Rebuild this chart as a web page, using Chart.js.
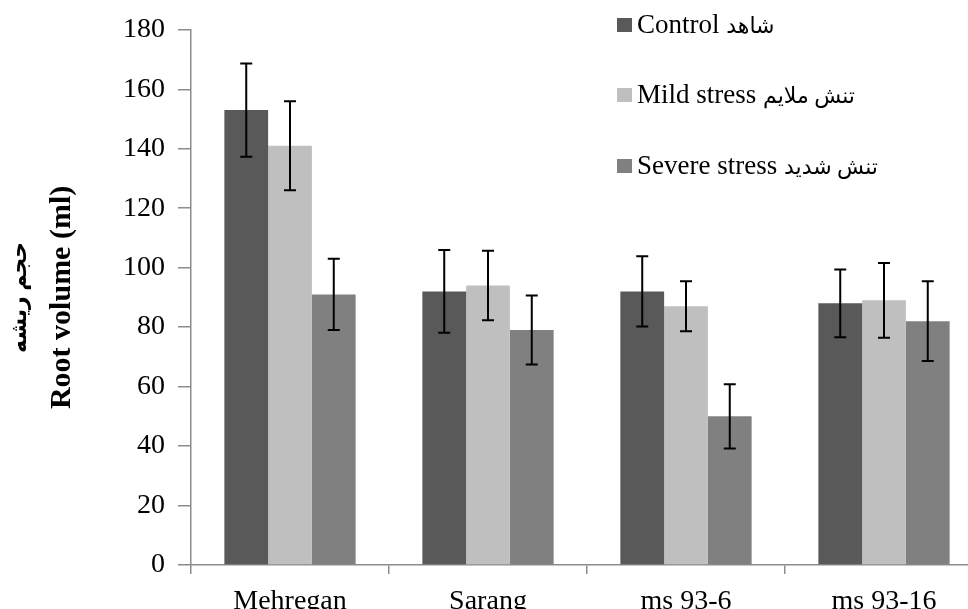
<!DOCTYPE html>
<html>
<head>
<meta charset="utf-8">
<script src="https://cdn.jsdelivr.net/npm/chart.js@4/dist/chart.umd.min.js"></script>
<style>
  html, body { margin: 0; padding: 0; background: #fff; overflow: hidden; width: 968px; height: 609px; }
  #wrap { position: relative; width: 990px; height: 609px; }
</style>
</head>
<body>
<div id="wrap"><canvas id="chart" width="990" height="609"></canvas></div>
<script>
// Root volume (ml) by genotype and drought treatment
const cultivars = ['Mehregan', 'Sarang', 'ms 93-6', 'ms 93-16'];
const seriesNames = ['Control', 'Mild stress', 'Severe stress'];
const seriesNamesFa = ['شاهد', 'تنش ملایم', 'تنش شدید'];
const controlVol = [153, 92, 92, 88];
const mildVol = [141, 94, 87, 89];
const severeVol = [91, 79, 50, 82];
// standard error (±) for each bar
const controlErr = [15.7, 13.9, 11.8, 11.4];
const mildErr = [15.0, 11.7, 8.4, 12.6];
const severeErr = [12.0, 11.6, 10.8, 13.4];
const yTicks = [0, 20, 40, 60, 80, 100, 120, 140, 160, 180];

const serifFont = "'Liberation Serif', 'Times New Roman', 'DejaVu Sans', serif";
const colors = ['#595959', '#bfbfbf', '#808080'];
const errors = [controlErr, mildErr, severeErr];

const errorBars = {
  id: 'errorBars',
  afterDatasetsDraw(chart) {
    const ctx = chart.ctx;
    const y = chart.scales.y;
    ctx.save();
    ctx.strokeStyle = '#000';
    ctx.lineWidth = 2;
    chart.data.datasets.forEach((ds, di) => {
      const meta = chart.getDatasetMeta(di);
      meta.data.forEach((bar, i) => {
        const v = ds.data[i], e = errors[di][i];
        const yTop = y.getPixelForValue(v + e);
        const yBot = y.getPixelForValue(v - e);
        const x = bar.x;
        ctx.beginPath();
        ctx.moveTo(x, yTop); ctx.lineTo(x, yBot);
        ctx.moveTo(x - 6, yTop); ctx.lineTo(x + 6, yTop);
        ctx.moveTo(x - 6, yBot); ctx.lineTo(x + 6, yBot);
        ctx.stroke();
      });
    });
    ctx.restore();
  }
};

// vertical legend in the upper right corner, English name followed by Persian name
const sideLegend = {
  id: 'sideLegend',
  afterDraw(chart) {
    const ctx = chart.ctx;
    const rows = [25, 95, 166];
    ctx.save();
    ctx.textBaseline = 'middle';
    ctx.textAlign = 'left';
    chart.data.datasets.forEach((ds, i) => {
      ctx.fillStyle = ds.backgroundColor;
      ctx.fillRect(617, rows[i] - 7, 15, 14);
      ctx.fillStyle = '#000';
      ctx.font = '27px ' + serifFont;
      const en = seriesNames[i] + ' ';
      ctx.fillText(en, 637, rows[i] + 1);
      const w = ctx.measureText(en).width;
      ctx.font = '22px ' + serifFont;
      ctx.fillText(seriesNamesFa[i], 637 + w, rows[i] + 2);
    });
    ctx.restore();
  }
};

const yTitle = {
  id: 'yTitle',
  afterDraw(chart) {
    const ctx = chart.ctx;
    const a = chart.chartArea;
    const cy = (a.top + a.bottom) / 2;
    ctx.save();
    ctx.fillStyle = '#000';
    ctx.textAlign = 'center';
    ctx.textBaseline = 'middle';
    ctx.translate(62, cy);
    ctx.rotate(-Math.PI / 2);
    ctx.font = 'bold 30px ' + serifFont;
    ctx.fillText('Root volume (ml)', 0, 0);
    ctx.font = 'bold 22px ' + serifFont;
    ctx.fillText('حجم ریشه', 0, -42);
    ctx.restore();
  }
};

new Chart(document.getElementById('chart'), {
  type: 'bar',
  data: {
    labels: cultivars,
    datasets: [
      { label: seriesNames[0], data: controlVol, backgroundColor: colors[0] },
      { label: seriesNames[1], data: mildVol, backgroundColor: colors[1] },
      { label: seriesNames[2], data: severeVol, backgroundColor: colors[2] }
    ]
  },
  options: {
    responsive: false,
    animation: false,
    devicePixelRatio: 1,
    layout: { padding: { top: 28, right: 7, left: 0, bottom: 0 } },
    datasets: { bar: { categoryPercentage: 0.663, barPercentage: 1.0, borderWidth: 0 } },
    plugins: { legend: { display: false }, tooltip: { enabled: false } },
    scales: {
      x: {
        grid: { display: true, drawOnChartArea: false, drawTicks: true, tickLength: 9, color: '#8c8c8c', lineWidth: 1.5, offset: true },
        border: { color: '#8c8c8c', width: 1.5 },
        ticks: { color: '#000', font: { family: serifFont, size: 28 }, padding: 11, maxRotation: 0 },
        afterFit(scale) { scale.height = 44; }
      },
      y: {
        min: 0, max: 180,
        afterBuildTicks(scale) { scale.ticks = yTicks.map(v => ({ value: v })); },
        grid: { display: true, drawOnChartArea: false, drawTicks: true, tickLength: 13, color: '#8c8c8c', lineWidth: 1.5 },
        border: { color: '#8c8c8c', width: 1.5 },
        ticks: { color: '#000', font: { family: serifFont, size: 28 }, padding: 13 },
        afterFit(scale) { scale.width = 191; }
      }
    }
  },
  plugins: [errorBars, sideLegend, yTitle]
});
</script>
</body>
</html>
